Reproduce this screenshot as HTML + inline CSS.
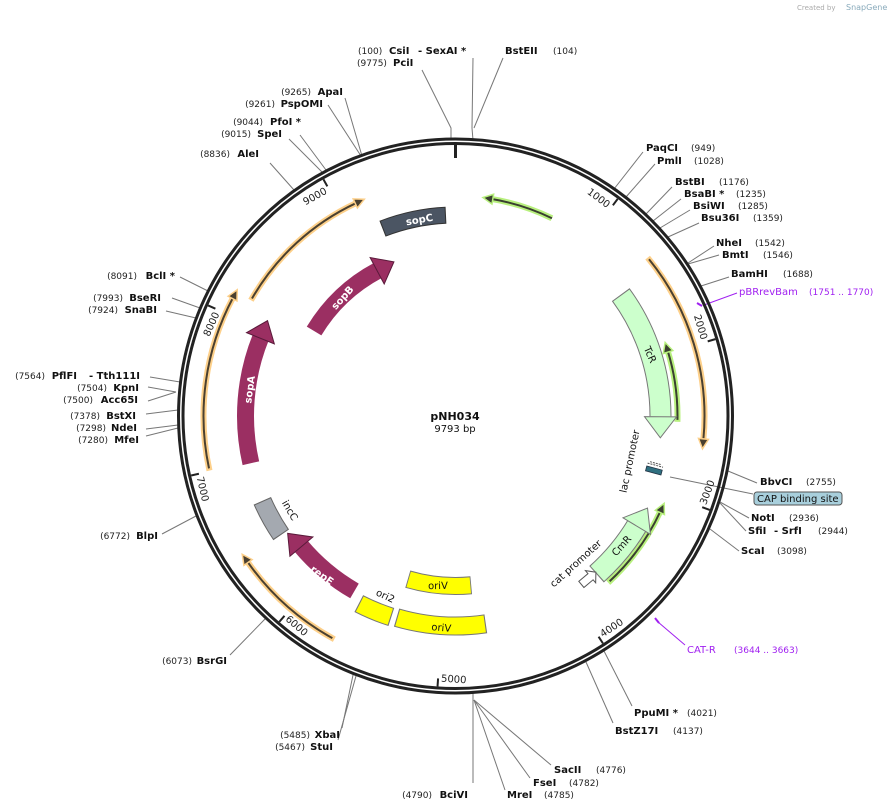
<!DOCTYPE html>
<html><head><meta charset="utf-8"><style>
html,body{margin:0;padding:0;background:#fff}
svg{display:block;font-family:"DejaVu Sans","Liberation Sans",sans-serif}
.n{font-size:10px;font-weight:bold;fill:#111}
.p{font-size:9px;fill:#222}
.l{stroke:#777;stroke-width:1;fill:none}
.tk{font-size:10px;fill:#222}
</style></head><body>
<svg width="895" height="810" viewBox="0 0 895 810" xmlns="http://www.w3.org/2000/svg">
<text x="797" y="10" font-size="7" fill="#aaa">Created by</text><text x="846" y="10" font-size="8" fill="#8ab">SnapGene</text>

<g class="l">
<polyline points="422,70 451,128 451,140"/>
<polyline points="473,58 472,128 473,140"/>
<polyline points="503,58 474,128"/>
<line x1="643" y1="152" x2="614" y2="189"/><line x1="655" y1="164" x2="626" y2="197"/>
<line x1="672" y1="187" x2="646" y2="214"/><line x1="681" y1="199" x2="653" y2="221"/>
<line x1="690" y1="210" x2="660" y2="228"/><line x1="699" y1="223" x2="668" y2="237"/>
<line x1="714" y1="246" x2="688" y2="263"/><line x1="719" y1="255" x2="688" y2="264"/>
<line x1="729" y1="277" x2="701" y2="286"/>
<line x1="757" y1="483" x2="728" y2="471"/>
<line x1="670" y1="477" x2="753" y2="494"/>
<line x1="749" y1="518" x2="720" y2="502"/><line x1="746" y1="531" x2="720" y2="503"/>
<line x1="739" y1="551" x2="710" y2="529"/>
<line x1="632" y1="706" x2="604" y2="651"/><line x1="613" y1="723" x2="586" y2="662"/>
<line x1="551" y1="765" x2="474" y2="700"/><line x1="530" y1="778" x2="474" y2="700"/>
<line x1="505" y1="790" x2="474" y2="700"/><line x1="473" y1="783" x2="473" y2="693"/>
<line x1="342" y1="728" x2="353" y2="675"/><line x1="338" y1="740" x2="356" y2="676"/>
<line x1="230" y1="655" x2="265" y2="619"/><line x1="162" y1="534" x2="196" y2="516"/>
<line x1="146" y1="436" x2="178" y2="428"/><line x1="146" y1="429" x2="178" y2="425"/>
<line x1="146" y1="414" x2="178" y2="410"/><line x1="148" y1="401" x2="176" y2="392"/>
<line x1="148" y1="387" x2="176" y2="392"/><line x1="150" y1="377" x2="180" y2="382"/>
<line x1="166" y1="311" x2="196" y2="318"/><line x1="172" y1="298" x2="200" y2="308"/>
<line x1="180" y1="277" x2="208" y2="291"/>
<line x1="270" y1="163" x2="294" y2="190"/><line x1="289" y1="139" x2="322" y2="172"/>
<line x1="300" y1="135" x2="326" y2="170"/><line x1="328" y1="105" x2="361" y2="156"/>
<line x1="345" y1="98" x2="362" y2="156"/>
</g>
<line x1="737" y1="293" x2="704" y2="305" stroke="#a020f0" stroke-width="1"/>
<line x1="697" y1="303" x2="702" y2="306" stroke="#a020f0" stroke-width="2"/>
<line x1="685" y1="645" x2="658" y2="622" stroke="#a020f0" stroke-width="1"/>
<line x1="655" y1="618" x2="659" y2="623" stroke="#a020f0" stroke-width="2"/>

<circle cx="455.5" cy="416" r="277" fill="none" stroke="#222" stroke-width="3"/>
<circle cx="455.5" cy="416" r="272.5" fill="none" stroke="#222" stroke-width="3"/>
<g transform="translate(455.5,416)" stroke="#222" stroke-width="2">
<line x1="0" y1="-271" x2="0" y2="-258" stroke-width="3"/>
<line x1="0" y1="-271" x2="0" y2="-263" transform="rotate(36.76)"/>
<line x1="0" y1="-271" x2="0" y2="-263" transform="rotate(73.52)"/>
<line x1="0" y1="-271" x2="0" y2="-263" transform="rotate(110.28)"/>
<line x1="0" y1="-271" x2="0" y2="-263" transform="rotate(147.04)"/>
<line x1="0" y1="-271" x2="0" y2="-263" transform="rotate(183.80)"/>
<line x1="0" y1="-271" x2="0" y2="-263" transform="rotate(220.56)"/>
<line x1="0" y1="-271" x2="0" y2="-263" transform="rotate(257.32)"/>
<line x1="0" y1="-271" x2="0" y2="-263" transform="rotate(294.08)"/>
<line x1="0" y1="-271" x2="0" y2="-263" transform="rotate(330.84)"/>
</g>
<g transform="translate(455.5,416)" class="tk">
<text transform="rotate(36.76)" x="-3" y="-257" text-anchor="end" class="tk">1000</text>
<text transform="rotate(73.52)" x="-3" y="-257" text-anchor="end" class="tk">2000</text>
<text transform="rotate(-69.72)" x="3" y="266" class="tk">3000</text>
<text transform="rotate(-32.96)" x="3" y="266" class="tk">4000</text>
<text transform="rotate(3.80)" x="3" y="266" class="tk">5000</text>
<text transform="rotate(40.56)" x="3" y="266" class="tk">6000</text>
<text transform="rotate(77.32)" x="3" y="266" class="tk">7000</text>
<text transform="rotate(294.08)" x="-3" y="-257" text-anchor="end" class="tk">8000</text>
<text transform="rotate(330.84)" x="-3" y="-257" text-anchor="end" class="tk">9000</text>
</g>

<g fill="none">
<circle cx="455.5" cy="416" r="220" pathLength="360" stroke="#b8f07e" stroke-width="6" stroke-dasharray="17 1000" transform="rotate(-81,455.5,416)"/>
<circle cx="455.5" cy="416" r="220" pathLength="360" stroke="#3a3f30" stroke-width="2" stroke-dasharray="16.5 1000" transform="rotate(-80.5,455.5,416)"/>
<circle cx="455.5" cy="416" r="222" pathLength="360" stroke="#b8f07e" stroke-width="6" stroke-dasharray="18.5 1000" transform="rotate(-17,455.5,416)"/>
<circle cx="455.5" cy="416" r="222" pathLength="360" stroke="#3a3f30" stroke-width="2" stroke-dasharray="18 1000" transform="rotate(-17,455.5,416)"/>
<circle cx="455.5" cy="416" r="226" pathLength="360" stroke="#b8f07e" stroke-width="6" stroke-dasharray="22.5 1000" transform="rotate(25,455.5,416)"/>
<circle cx="455.5" cy="416" r="226" pathLength="360" stroke="#3a3f30" stroke-width="2" stroke-dasharray="22 1000" transform="rotate(25,455.5,416)"/>

<circle cx="455.5" cy="416" r="252" pathLength="360" stroke="#fdd08a" stroke-width="6" stroke-dasharray="40.5 1000" transform="rotate(167.5,455.5,416)"/>
<circle cx="455.5" cy="416" r="252" pathLength="360" stroke="#4a4030" stroke-width="2" stroke-dasharray="40 1000" transform="rotate(168,455.5,416)"/>
<circle cx="455.5" cy="416" r="235" pathLength="360" stroke="#fdd08a" stroke-width="6" stroke-dasharray="35.5 1000" transform="rotate(209.5,455.5,416)"/>
<circle cx="455.5" cy="416" r="235" pathLength="360" stroke="#4a4030" stroke-width="2" stroke-dasharray="35 1000" transform="rotate(210,455.5,416)"/>
<circle cx="455.5" cy="416" r="249" pathLength="360" stroke="#fdd08a" stroke-width="6" stroke-dasharray="45 1000" transform="rotate(-39.5,455.5,416)"/>
<circle cx="455.5" cy="416" r="249" pathLength="360" stroke="#4a4030" stroke-width="2" stroke-dasharray="44.5 1000" transform="rotate(-39,455.5,416)"/>
<circle cx="455.5" cy="416" r="254" pathLength="360" stroke="#fdd08a" stroke-width="6" stroke-dasharray="26.5 1000" transform="rotate(118.5,455.5,416)"/>
<circle cx="455.5" cy="416" r="254" pathLength="360" stroke="#4a4030" stroke-width="2" stroke-dasharray="26 1000" transform="rotate(119,455.5,416)"/>

<circle cx="455.5" cy="416" r="201" pathLength="360" stroke="#333" stroke-width="17" stroke-dasharray="18.6 1000" transform="rotate(248.7,455.5,416)"/>
<circle cx="455.5" cy="416" r="201" pathLength="360" stroke="#4b5563" stroke-width="15" stroke-dasharray="18 1000" transform="rotate(249,455.5,416)"/>
<circle cx="455.5" cy="416" r="170" pathLength="360" stroke="#777" stroke-width="18" stroke-dasharray="21.6 1000" transform="rotate(84.7,455.5,416)"/>
<circle cx="455.5" cy="416" r="170" pathLength="360" stroke="#ffff00" stroke-width="16" stroke-dasharray="21 1000" transform="rotate(85,455.5,416)"/>
<circle cx="455.5" cy="416" r="210" pathLength="360" stroke="#777" stroke-width="19" stroke-dasharray="24.6 1000" transform="rotate(81.7,455.5,416)"/>
<circle cx="455.5" cy="416" r="210" pathLength="360" stroke="#ffff00" stroke-width="17" stroke-dasharray="24 1000" transform="rotate(82,455.5,416)"/>
<circle cx="455.5" cy="416" r="211" pathLength="360" stroke="#777" stroke-width="19" stroke-dasharray="9.6 1000" transform="rotate(107.7,455.5,416)"/>
<circle cx="455.5" cy="416" r="211" pathLength="360" stroke="#ffff00" stroke-width="17" stroke-dasharray="9 1000" transform="rotate(108,455.5,416)"/>
<circle cx="455.5" cy="416" r="211" pathLength="360" stroke="#666" stroke-width="19" stroke-dasharray="10.6 1000" transform="rotate(145.7,455.5,416)"/>
<circle cx="455.5" cy="416" r="211" pathLength="360" stroke="#a4a9b0" stroke-width="17" stroke-dasharray="10 1000" transform="rotate(146,455.5,416)"/>

<circle cx="455.5" cy="416" r="165" pathLength="360" stroke="#9b2f62" stroke-width="17" stroke-dasharray="31 1000" transform="rotate(211,455.5,416)"/>
<circle cx="455.5" cy="416" r="210" pathLength="360" stroke="#9b2f62" stroke-width="17" stroke-dasharray="35 1000" transform="rotate(167,455.5,416)"/>
<circle cx="455.5" cy="416" r="202" pathLength="360" stroke="#9b2f62" stroke-width="17" stroke-dasharray="20 1000" transform="rotate(120,455.5,416)"/>
<circle cx="455.5" cy="416" r="205" pathLength="360" stroke="#777" stroke-width="22" stroke-dasharray="36.4 1000" transform="rotate(-36.3,455.5,416)"/>
<circle cx="455.5" cy="416" r="205" pathLength="360" stroke="#ccffcc" stroke-width="20" stroke-dasharray="36.5 1000" transform="rotate(-36,455.5,416)"/>
<circle cx="455.5" cy="416" r="212" pathLength="360" stroke="#777" stroke-width="22" stroke-dasharray="17.3 1000" transform="rotate(31,455.5,416)"/>
<circle cx="455.5" cy="416" r="212" pathLength="360" stroke="#ccffcc" stroke-width="20" stroke-dasharray="17.2 1000" transform="rotate(30.8,455.5,416)"/>
</g>
<g transform="translate(455.5,416)" stroke-linejoin="miter">
<polygon transform="rotate(9.5)" points="1,-225 1,-215 -9,-220" fill="#3a3f30" stroke="#b8f07e" stroke-width="1.5"/>
<polygon transform="rotate(73)" points="1,-227 1,-217 -9,-222" fill="#3a3f30" stroke="#b8f07e" stroke-width="1.5"/>
<polygon transform="rotate(115)" points="1,-231 1,-221 -9,-226" fill="#3a3f30" stroke="#b8f07e" stroke-width="1.5"/>
<polygon transform="rotate(298)" points="-1,-257 -1,-247 9,-252" fill="#4a4030" stroke="#fdd08a" stroke-width="1.5"/>
<polygon transform="rotate(335)" points="-1,-240 -1,-230 9,-235" fill="#4a4030" stroke="#fdd08a" stroke-width="1.5"/>
<polygon transform="rotate(95.5)" points="-1,-254 -1,-244 9,-249" fill="#4a4030" stroke="#fdd08a" stroke-width="1.5"/>
<polygon transform="rotate(235)" points="-1,-259 -1,-249 9,-254" fill="#4a4030" stroke="#fdd08a" stroke-width="1.5"/>
<polygon transform="rotate(332)" points="-1,-180 -1,-150 18,-165" fill="#9b2f62" stroke="#5a1a3a" stroke-width="1"/>
<polygon transform="rotate(292)" points="-1,-225 -1,-195 18,-210" fill="#9b2f62" stroke="#5a1a3a" stroke-width="1"/>
<polygon transform="rotate(230)" points="-1,-217 -1,-187 18,-204" fill="#9b2f62" stroke="#5a1a3a" stroke-width="1"/>
<polygon transform="rotate(90.5)" points="-1,-221 -1,-189 20,-205" fill="#ccffcc" stroke="#777" stroke-width="1"/>
<polygon transform="rotate(121)" points="1,-228 1,-196 -20,-212" fill="#ccffcc" stroke="#777" stroke-width="1"/>
</g>
<g transform="translate(654,470) rotate(15)">
<rect x="-8" y="-2" width="16" height="5" fill="#2f6f80" stroke="#234" stroke-width="0.8"/>
<line x1="-8" y1="-5" x2="8" y2="-5" stroke="#555" stroke-width="1" stroke-dasharray="2 1"/>
<line x1="-6" y1="-7" x2="6" y2="-7" stroke="#555" stroke-width="1" stroke-dasharray="2 1"/>
</g>
<polygon transform="translate(589,578) rotate(-40)" points="-10,-4 2,-4 2,-8 9,0 2,8 2,4 -10,4" fill="#fff" stroke="#555" stroke-width="1"/>

<g font-size="10">
<text transform="translate(420,223) rotate(-10)" text-anchor="middle" fill="#fff" font-weight="bold">sopC</text>
<text transform="translate(345,300) rotate(-48)" text-anchor="middle" fill="#fff" font-weight="bold">sopB</text>
<text transform="translate(253,390) rotate(-82)" text-anchor="middle" fill="#fff" font-weight="bold">sopA</text>
<text transform="translate(320,578) rotate(36)" text-anchor="middle" fill="#fff" font-weight="bold">repE</text>
<text transform="translate(647,356) rotate(66)" text-anchor="middle" fill="#111">TcR</text>
<text transform="translate(633,462) rotate(-78)" text-anchor="middle" fill="#111">lac promoter</text>
<text transform="translate(624,548) rotate(-48)" text-anchor="middle" fill="#111">CmR</text>
<text transform="translate(578,566) rotate(-42)" text-anchor="middle" fill="#111">cat promoter</text>
<text transform="translate(438,589) rotate(-1)" text-anchor="middle" fill="#111">oriV</text>
<text transform="translate(441,631) rotate(5)" text-anchor="middle" fill="#111">oriV</text>
<text transform="translate(384,599) rotate(25)" text-anchor="middle" fill="#111">ori2</text>
<text transform="translate(287,512) rotate(60)" text-anchor="middle" fill="#111">incC</text>
</g>
<text x="455" y="420" text-anchor="middle" font-size="11" font-weight="bold" fill="#111">pNH034</text>
<text x="455" y="432" text-anchor="middle" font-size="10" fill="#111">9793 bp</text>

<text x="358" y="54" class="p">(100)</text><text x="389" y="54" class="n">CsiI</text><text x="418" y="54" class="n">- SexAI *</text>
<text x="357" y="66" class="p">(9775)</text><text x="393" y="66" class="n">PciI</text>
<text x="505" y="54" class="n">BstEII</text><text x="553" y="54" class="p">(104)</text>
<text x="646" y="151" class="n">PaqCI</text><text x="691" y="151" class="p">(949)</text>
<text x="657" y="164" class="n">PmlI</text><text x="694" y="164" class="p">(1028)</text>
<text x="675" y="185" class="n">BstBI</text><text x="719" y="185" class="p">(1176)</text>
<text x="684" y="197" class="n">BsaBI *</text><text x="736" y="197" class="p">(1235)</text>
<text x="693" y="209" class="n">BsiWI</text><text x="738" y="209" class="p">(1285)</text>
<text x="701" y="221" class="n">Bsu36I</text><text x="753" y="221" class="p">(1359)</text>
<text x="716" y="246" class="n">NheI</text><text x="755" y="246" class="p">(1542)</text>
<text x="722" y="258" class="n">BmtI</text><text x="763" y="258" class="p">(1546)</text>
<text x="731" y="277" class="n">BamHI</text><text x="783" y="277" class="p">(1688)</text>
<text x="739" y="295" font-size="10" fill="#a020f0">pBRrevBam</text><text x="809" y="295" font-size="9" fill="#a020f0">(1751 .. 1770)</text>
<text x="760" y="485" class="n">BbvCI</text><text x="806" y="485" class="p">(2755)</text>
<rect x="754" y="492" width="88" height="13" rx="3" fill="#a8cfdc" stroke="#555" stroke-width="1"/>
<text x="757" y="502" font-size="10" fill="#111">CAP binding site</text>
<text x="751" y="521" class="n">NotI</text><text x="789" y="521" class="p">(2936)</text>
<text x="748" y="534" class="n">SfiI</text><text x="774" y="534" class="n">- SrfI</text><text x="818" y="534" class="p">(2944)</text>
<text x="741" y="554" class="n">ScaI</text><text x="777" y="554" class="p">(3098)</text>
<text x="687" y="653" font-size="10" fill="#a020f0">CAT-R</text><text x="734" y="653" font-size="9" fill="#a020f0">(3644 .. 3663)</text>
<text x="634" y="716" class="n">PpuMI *</text><text x="687" y="716" class="p">(4021)</text>
<text x="615" y="734" class="n">BstZ17I</text><text x="673" y="734" class="p">(4137)</text>
<text x="554" y="773" class="n">SacII</text><text x="596" y="773" class="p">(4776)</text>
<text x="533" y="786" class="n">FseI</text><text x="569" y="786" class="p">(4782)</text>
<text x="507" y="798" class="n">MreI</text><text x="544" y="798" class="p">(4785)</text>
<g text-anchor="end">
<text x="468" y="798" class="n">BciVI</text><text x="432" y="798" class="p">(4790)</text>
<text x="340" y="738" class="n">XbaI</text><text x="310" y="738" class="p">(5485)</text>
<text x="333" y="750" class="n">StuI</text><text x="305" y="750" class="p">(5467)</text>
<text x="227" y="664" class="n">BsrGI</text><text x="192" y="664" class="p">(6073)</text>
<text x="158" y="539" class="n">BlpI</text><text x="130" y="539" class="p">(6772)</text>
<text x="139" y="443" class="n">MfeI</text><text x="108" y="443" class="p">(7280)</text>
<text x="137" y="431" class="n">NdeI</text><text x="106" y="431" class="p">(7298)</text>
<text x="136" y="419" class="n">BstXI</text><text x="100" y="419" class="p">(7378)</text>
<text x="138" y="403" class="n">Acc65I</text><text x="93" y="403" class="p">(7500)</text>
<text x="139" y="391" class="n">KpnI</text><text x="107" y="391" class="p">(7504)</text>
<text x="140" y="379" class="n">- Tth111I</text><text x="77" y="379" class="n">PflFI</text><text x="45" y="379" class="p">(7564)</text>
<text x="157" y="313" class="n">SnaBI</text><text x="118" y="313" class="p">(7924)</text>
<text x="161" y="301" class="n">BseRI</text><text x="123" y="301" class="p">(7993)</text>
<text x="175" y="279" class="n">BclI *</text><text x="137" y="279" class="p">(8091)</text>
<text x="259" y="157" class="n">AleI</text><text x="230" y="157" class="p">(8836)</text>
<text x="282" y="137" class="n">SpeI</text><text x="251" y="137" class="p">(9015)</text>
<text x="301" y="125" class="n">PfoI *</text><text x="263" y="125" class="p">(9044)</text>
<text x="323" y="107" class="n">PspOMI</text><text x="275" y="107" class="p">(9261)</text>
<text x="343" y="95" class="n">ApaI</text><text x="311" y="95" class="p">(9265)</text>
</g>
</svg>
</body></html>
